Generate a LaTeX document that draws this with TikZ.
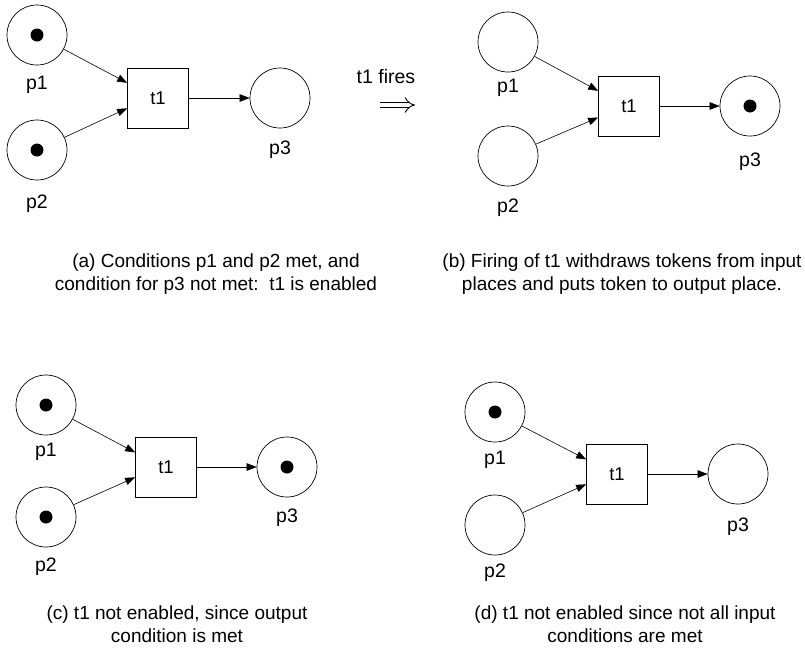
\documentclass[tikz,border=0pt]{standalone}
\usepackage{fontspec}
\setmainfont{Liberation Sans}
\usetikzlibrary{arrows.meta,calc}
\tikzset{
  pnplace/.style={draw, circle, minimum size=60pt, inner sep=0pt, line width=0.7pt},
  pntrans/.style={draw, rectangle, minimum width=61pt, minimum height=60pt, inner sep=0pt, line width=0.7pt, font=\fontsize{18.5}{22}\selectfont},
  pnlab/.style={font=\fontsize{19.5}{23}\selectfont, inner sep=0pt},
  captext/.style={font=\fontsize{19}{23}\selectfont, align=center, inner sep=0pt},
  pnarrow/.style={-{Triangle[length=10pt,width=7.5pt]}, line width=0.6pt},
  pntoken/.style={fill=black},
  implarrow/.style={line width=0.9pt, double distance=4.6pt, -{Implies[length=7pt,width=16pt]}}
}
\begin{document}
\begin{tikzpicture}[x=1pt,y=-1pt]
\useasboundingbox (0,0) rectangle (805,649);
% ---------- panel (a)
\node[pnplace] (ap1) at (37,35) {};
\node[pnplace] (ap2) at (37,150) {};
\node[pntrans] (at1) at (158,98) {t1};
\node[pnplace] (ap3) at (280,98) {};
\fill[pntoken] (ap1.center) circle (6.5pt);
\fill[pntoken] (ap2.center) circle (6.5pt);
\node[pnlab] (ap1l) at (37,85) {p1};
\node[pnlab] (ap2l) at (37,204) {p2};
\node[pnlab] (ap3l) at (280,150) {p3};
\coordinate (ain1) at ($(at1.north west)!0.25!(at1.south west)$);
\coordinate (ain2) at ($(at1.north west)!0.67!(at1.south west)$);
\draw[pnarrow] (ap1) -- (ain1);
\draw[pnarrow] (ap2) -- (ain2);
\draw[pnarrow] (at1) -- (ap3);
\node[captext] (acap) at (216,274) {(a) Conditions p1 and p2 met, and\\condition for p3 not met:\ \ t1 is enabled};
% ---------- fires
\node[pnlab] (fires) at (386,77) {t1 fires};
\coordinate (fa) at (380,105);
\coordinate (fb) at (415,105);
\draw[implarrow] (fa) -- (fb);
% ---------- panel (b)
\node[pnplace] (bp1) at (508,42) {};
\node[pnplace] (bp2) at (508,156) {};
\node[pntrans] (bt1) at (629,106) {t1};
\node[pnplace] (bp3) at (750,106) {};
\fill[pntoken] (bp3.center) circle (6.5pt);
\node[pnlab] (bp1l) at (508,88) {p1};
\node[pnlab] (bp2l) at (508,208) {p2};
\node[pnlab] (bp3l) at (750,162) {p3};
\coordinate (bin1) at ($(bt1.north west)!0.25!(bt1.south west)$);
\coordinate (bin2) at ($(bt1.north west)!0.69!(bt1.south west)$);
\draw[pnarrow] (bp1) -- (bin1);
\draw[pnarrow] (bp2) -- (bin2);
\draw[pnarrow] (bt1) -- (bp3);
\node[captext] (bcap) at (622,274) {(b) Firing of t1 withdraws tokens from input\\places and puts token to output place.};
% ---------- panel (c)
\node[pnplace] (cp1) at (46,405) {};
\node[pnplace] (cp2) at (46,517) {};
\node[pntrans] (ct1) at (166,467) {t1};
\node[pnplace] (cp3) at (287,467) {};
\fill[pntoken] (cp1.center) circle (6.5pt);
\fill[pntoken] (cp2.center) circle (6.5pt);
\fill[pntoken] (cp3.center) circle (6.5pt);
\node[pnlab] (cp1l) at (46,452) {p1};
\node[pnlab] (cp2l) at (46,567) {p2};
\node[pnlab] (cp3l) at (287,518) {p3};
\coordinate (cin1) at ($(ct1.north west)!0.26!(ct1.south west)$);
\coordinate (cin2) at ($(ct1.north west)!0.67!(ct1.south west)$);
\draw[pnarrow] (cp1) -- (cin1);
\draw[pnarrow] (cp2) -- (cin2);
\draw[pnarrow] (ct1) -- (cp3);
\node[captext] (ccap) at (177,624) {(c) t1 not enabled, since output\\condition is met};
% ---------- panel (d)
\node[pnplace] (dp1) at (495,412) {};
\node[pnplace] (dp2) at (495,525) {};
\node[pntrans] (dt1) at (617,474) {t1};
\node[pnplace] (dp3) at (738,474) {};
\fill[pntoken] (dp1.center) circle (6.5pt);
\node[pnlab] (dp1l) at (495,460) {p1};
\node[pnlab] (dp2l) at (495,573) {p2};
\node[pnlab] (dp3l) at (738,527) {p3};
\coordinate (din1) at ($(dt1.north west)!0.26!(dt1.south west)$);
\coordinate (din2) at ($(dt1.north west)!0.67!(dt1.south west)$);
\draw[pnarrow] (dp1) -- (din1);
\draw[pnarrow] (dp2) -- (din2);
\draw[pnarrow] (dt1) -- (dp3);
\node[captext] (dcap) at (625,624) {(d) t1 not enabled since not all input\\conditions are met};
\end{tikzpicture}
\end{document}
